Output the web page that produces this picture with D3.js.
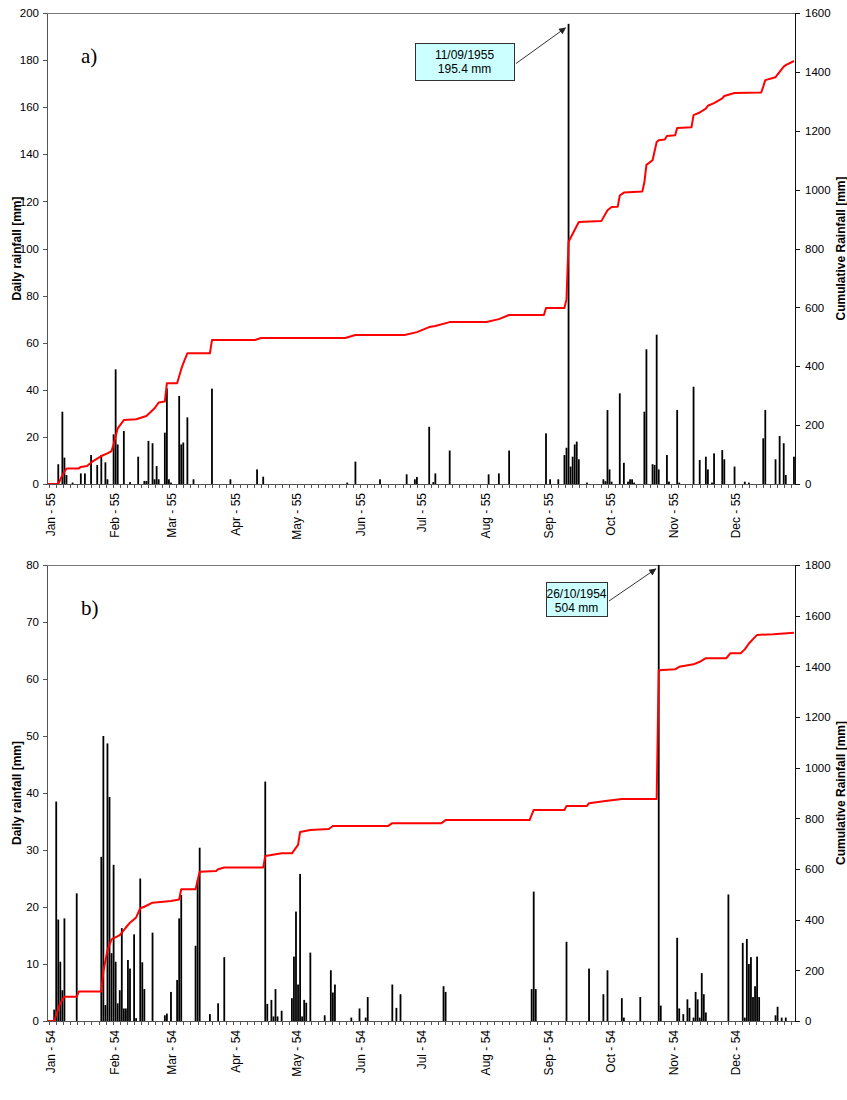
<!DOCTYPE html>
<html>
<head>
<meta charset="utf-8">
<title>Daily and cumulative rainfall</title>
<script src="https://cdn.jsdelivr.net/npm/d3@7"></script>
<style>
	body { margin: 0; background: #fff; }
	svg { display: block; font-family: Arial, "Liberation Sans", sans-serif; }
	.axis path, .axis line { stroke: #555; shape-rendering: crispEdges; }
	.axis text { font-size: 11.5px; fill: #000; }
	.axis-right path, .axis-right line { stroke: #111; }
	.frame { stroke: #777; shape-rendering: crispEdges; }
	.bar { fill: #000; }
	.cum-line { fill: none; stroke: #ff0000; stroke-width: 2; stroke-linejoin: round; }
	.title { font-size: 12px; font-weight: bold; }
	.month { font-size: 12px; }
	.tag { font-family: "Liberation Serif", "DejaVu Serif", serif; font-size: 21px; }
	.note-box { fill: #ccffff; stroke: #333; stroke-width: 1; shape-rendering: crispEdges; }
	.note-text { font-size: 12px; }
	.note-arrow { stroke: #333; stroke-width: 1; }
</style>
</head>
<body>
<svg id="rain-chart" width="847" height="1100"></svg>
<script>
window.app = window.app || {};

// month labels (day of year where each month starts)
var monthNames = ['Jan', 'Feb', 'Mar', 'Apr', 'May', 'Jun', 'Jul', 'Aug', 'Sep', 'Oct', 'Nov', 'Dec'];
var monthStarts = [0, 31, 59, 90, 120, 151, 181, 212, 243, 273, 304, 334];

// a) 1955 daily rainfall [mm], day of year (0 = 1 Jan)
var days55 = [5, 7, 8, 9, 12, 16, 18, 21, 24, 26, 28, 29, 32, 33, 34, 37, 40, 44, 47, 48,
	49, 51, 52, 53, 54, 57, 58, 59, 60, 64, 65, 66, 68, 71, 80, 89, 102, 105, 146, 150,
	162, 175, 179, 180, 186, 188, 189, 196, 215, 220, 225, 243, 245, 249, 252, 253, 254, 255, 256, 257,
	258, 259, 263, 271, 272, 273, 274, 275, 279, 281, 283, 284, 285, 286, 291, 292, 295, 296, 297, 298,
	302, 303, 307, 308, 315, 318, 321, 322, 324, 325, 329, 330, 335, 340, 342, 349, 350, 355, 357, 359,
	360, 364];
var rain55 = [8.4, 30.7, 11.2, 3.8, 0.6, 4.5, 4.5, 12.3, 8.1, 12.3, 9.2, 2, 21.1, 48.7, 16.8, 22.5, 0.8, 11.6, 1.3, 1.3,
	18.3, 17.3, 2, 7.6, 2, 21.8, 40.6, 2, 0.6, 37.4, 16.8, 17.6, 28.3, 2, 40.5, 2, 6.2, 3.1, 0.6, 9.5,
	2, 4.1, 2, 3, 24.3, 0.8, 4.5, 14.2, 4.1, 4.5, 14.2, 21.5, 2, 2, 12.3, 15.4, 195.4, 7.4, 11.6, 16.8,
	18, 10.5, 0.6, 2, 1.2, 31.4, 6.2, 1, 38.5, 9, 1, 2, 2, 0.6, 30.7, 57.2, 8.4, 8.1, 63.4, 6.2,
	12.3, 1, 31.4, 0.6, 41.3, 10.2, 11.6, 6.2, 0.6, 13, 14.4, 10.5, 7.4, 1, 0.6, 19.4, 31.4, 10.5, 20.4, 17.3,
	3.8, 11.6];

// a) 1955 cumulative rainfall [mm], read at its corners
var cumDays55 = [0, 5, 7, 9, 15, 16, 19, 22, 26, 29, 31, 32, 34, 37, 43, 48, 52, 54, 57, 58,
	63, 65, 66, 68, 79, 80, 101, 104, 145, 150, 174, 180, 186, 189, 196, 214, 220, 225, 242, 243,
	252, 253, 254, 259, 270, 273, 275, 278, 279, 281, 290, 291, 292, 295, 297, 298, 301, 302, 306, 307,
	314, 315, 318, 321, 322, 325, 329, 330, 335, 348, 349, 350, 355, 357, 359, 360, 364];
var cum55 = [0, 0, 30, 53, 53, 58, 61, 78, 95, 104, 112, 135, 189, 217, 220, 231, 257, 277, 280, 342,
	342, 390, 410, 444, 444, 489, 489, 496, 496, 506, 506, 516, 533, 537, 550, 550, 560, 574, 574, 598,
	598, 628, 823, 890, 893, 930, 941, 942, 980, 990, 994, 1025, 1084, 1100, 1162, 1168, 1170, 1182, 1185, 1209,
	1212, 1253, 1262, 1275, 1285, 1294, 1310, 1318, 1328, 1330, 1350, 1372, 1382, 1400, 1418, 1423, 1437];

// b) 1954 daily rainfall [mm]
var days54 = [3, 4, 5, 6, 7, 8, 14, 26, 27, 28, 29, 30, 31, 32, 33, 34, 35, 36, 37, 38,
	39, 40, 42, 43, 45, 46, 47, 51, 57, 58, 60, 63, 64, 65, 72, 73, 74, 79, 83, 86,
	106, 107, 109, 110, 111, 112, 114, 119, 120, 121, 122, 123, 124, 125, 126, 128, 135, 138, 139, 140,
	148, 152, 155, 156, 168, 170, 172, 193, 194, 236, 237, 238, 253, 264, 271, 273, 280, 281, 289, 298,
	299, 307, 308, 310, 312, 313, 315, 316, 317, 318, 319, 320, 321, 332, 339, 340, 341, 342, 343, 344,
	345, 346, 347, 355, 356, 358, 360];
var rain54 = [2, 38.5, 17.8, 10.4, 5.4, 18, 22.4, 28.8, 50, 2.8, 48.7, 39.3, 11.9, 27.4, 10.4, 3.1, 5.4, 16.3, 2.2, 2.2,
	10.7, 9.2, 15.2, 0.5, 25, 10.3, 5.6, 15.5, 1, 1.3, 5.1, 7.2, 18, 22.1, 13.2, 24.7, 30.4, 1.2, 3.1, 11.2,
	42, 3, 3.7, 0.8, 5.6, 0.8, 1.8, 4, 11.3, 19.2, 6.4, 25.8, 0.8, 3.7, 3.2, 12, 1, 8.9, 5, 6.4,
	0.6, 2.2, 0.6, 4.2, 6.4, 2.3, 4.7, 6.1, 5.1, 5.6, 22.7, 5.6, 13.9, 9.2, 4.7, 8.9, 4, 0.6, 4.2, 504,
	2.7, 14.6, 2.2, 1.2, 3.8, 2.3, 0.6, 5.1, 3.8, 0.6, 8.4, 4.7, 1.5, 22.2, 13.7, 0.6, 14.4, 10, 11.2, 4.2,
	6.1, 11.3, 4.2, 1, 2.5, 0.6, 0.6];

// b) 1954 cumulative rainfall [mm]
var cumDays54 = [0, 3, 4, 6, 8, 14, 15, 26, 27, 29, 31, 35, 38, 40, 43, 45, 47, 51, 60, 64,
	65, 72, 74, 82, 83, 86, 105, 106, 114, 119, 122, 123, 128, 137, 139, 166, 168, 192, 194, 235,
	237, 252, 253, 263, 264, 272, 280, 297, 298, 306, 308, 315, 318, 321, 331, 333, 338, 340, 342, 346,
	354, 364];
var cum54 = [0, 0, 24, 70, 96, 96, 116, 116, 195, 280, 322, 339, 369, 388, 409, 445, 451, 467, 474, 480,
	520, 520, 589, 592, 599, 606, 606, 651, 662, 662, 695, 746, 754, 758, 770, 770, 781, 781, 793, 793,
	833, 833, 849, 849, 860, 868, 876, 876, 1385, 1388, 1398, 1408, 1418, 1432, 1432, 1452, 1452, 1467, 1490, 1524,
	1527, 1533];

// axis tick values
var dailyTicks55 = [0, 20, 40, 60, 80, 100, 120, 140, 160, 180, 200];
var cumTicks55 = [0, 200, 400, 600, 800, 1000, 1200, 1400, 1600];
var dailyTicks54 = [0, 10, 20, 30, 40, 50, 60, 70, 80];
var cumTicks54 = [0, 200, 400, 600, 800, 1000, 1200, 1400, 1600, 1800];

app.rainChart = (function() {

	'use strict';

	var svg = d3.select('#rain-chart'),
		left = 47,
		right = 795;

	var xScale = d3.scaleLinear()
		.domain([0, 365])
		.range([left, right]);

	/**
	* draw one panel (bars, cumulative line, axes, note)
	* @param {object} p panel settings
	* @returns {undefined}
	*/
	var drawPanel = function(p) {
		var g = svg.append('g'),
			yScale = d3.scaleLinear().domain([0, p.dailyTicks[p.dailyTicks.length - 1]]).range([p.bottom, p.top]),
			cScale = d3.scaleLinear().domain([0, p.cumTicks[p.cumTicks.length - 1]]).range([p.bottom, p.top]),
			bars = p.days.map(function(d, i) {
				return { day: d, value: p.rain[i] };
			}),
			cumPts = p.cumDays.map(function(d, i) {
				return { day: d, value: p.cum[i] };
			});

		g.append('clipPath')
			.attr('id', 'clip-' + p.id)
			.append('rect')
			.attr('x', left)
			.attr('y', p.top)
			.attr('width', right - left)
			.attr('height', p.bottom - p.top);

		// top border of plot area
		g.append('line')
			.attr('class', 'frame')
			.attr('x1', left).attr('x2', right)
			.attr('y1', p.top + 0.5).attr('y2', p.top + 0.5);

		// daily bars
		g.append('g')
			.attr('clip-path', 'url(#clip-' + p.id + ')')
			.selectAll('.bar')
			.data(bars)
			.enter()
			.append('rect')
			.attr('class', 'bar')
			.attr('x', function(d) {
				return xScale(d.day + 0.5) - 0.9;
			})
			.attr('y', function(d) {
				return yScale(d.value);
			})
			.attr('width', 1.8)
			.attr('height', function(d) {
				return p.bottom - yScale(d.value);
			});

		// cumulative line
		var line = d3.line()
			.x(function(d) {
				return xScale(d.day + 0.5);
			})
			.y(function(d) {
				return cScale(d.value);
			});

		g.append('path')
			.datum(cumPts)
			.attr('class', 'cum-line')
			.attr('d', line);

		// axes
		g.append('g')
			.attr('class', 'axis')
			.attr('transform', 'translate(0,' + p.bottom + ')')
			.call(d3.axisBottom(xScale)
				.tickValues(d3.range(1, 365, 3.45))
				.tickSize(4)
				.tickSizeOuter(0)
				.tickFormat(''));

		g.append('g')
			.attr('class', 'axis')
			.attr('transform', 'translate(' + left + ',0)')
			.call(d3.axisLeft(yScale)
				.tickValues(p.dailyTicks)
				.tickSize(4)
				.tickSizeOuter(0)
				.tickPadding(4));

		g.append('g')
			.attr('class', 'axis axis-right')
			.attr('transform', 'translate(' + right + ',0)')
			.call(d3.axisRight(cScale)
				.tickValues(p.cumTicks)
				.tickFormat(d3.format('d'))
				.tickSize(5)
				.tickSizeOuter(0)
				.tickPadding(5));

		// month labels
		g.selectAll('.month')
			.data(monthStarts)
			.enter()
			.append('text')
			.attr('class', 'month')
			.attr('text-anchor', 'end')
			.attr('dy', '0.35em')
			.attr('transform', function(d) {
				return 'translate(' + (xScale(d + 0.5) + 3) + ',' + (p.bottom + 9) + ') rotate(-90)';
			})
			.text(function(d, i) {
				return monthNames[i] + ' - ' + p.yy;
			});

		// axis titles
		var mid = (p.top + p.bottom) / 2;
		g.append('text')
			.attr('class', 'title')
			.attr('text-anchor', 'middle')
			.attr('transform', 'translate(21,' + mid + ') rotate(-90)')
			.text('Daily rainfall [mm]');

		g.append('text')
			.attr('class', 'title')
			.attr('text-anchor', 'middle')
			.attr('transform', 'translate(845,' + mid + ') rotate(-90)')
			.text('Cumulative Rainfall [mm]');

		g.append('text')
			.attr('class', 'tag')
			.attr('x', 81)
			.attr('y', p.top + 50)
			.text(p.tag);

		// annotation of the maximum day
		var tipX = xScale(p.noteDay + 0.5) - 3,
			tipY = Math.max(yScale(p.noteValue), p.top) + 4,
			box = p.noteBox;

		g.append('line')
			.attr('class', 'note-arrow')
			.attr('x1', box.x + box.w + 2)
			.attr('y1', box.y + box.h / 2 + 2)
			.attr('x2', tipX)
			.attr('y2', tipY)
			.attr('marker-end', 'url(#arrow)');

		g.append('rect')
			.attr('class', 'note-box')
			.attr('x', box.x + 0.5)
			.attr('y', box.y + 0.5)
			.attr('width', box.w)
			.attr('height', box.h);

		g.selectAll('.note-text')
			.data(p.note)
			.enter()
			.append('text')
			.attr('class', 'note-text')
			.attr('text-anchor', 'middle')
			.attr('x', box.x + box.w / 2)
			.attr('y', function(d, i) {
				return box.y + 16 + i * 14;
			})
			.text(function(d) {
				return d;
			});
	};

	/**
	*
	* @returns {undefined}
	*/
	var init = function() {
		svg.append('defs')
			.append('marker')
			.attr('id', 'arrow')
			.attr('viewBox', '0 0 10 10')
			.attr('refX', 9)
			.attr('refY', 5)
			.attr('markerWidth', 9)
			.attr('markerHeight', 7)
			.attr('markerUnits', 'userSpaceOnUse')
			.attr('orient', 'auto')
			.append('path')
			.attr('d', 'M0,0 L10,5 L0,10 z')
			.attr('fill', '#222');

		drawPanel({
			id: 'a', tag: 'a)', yy: '55', top: 13, bottom: 484,
			days: days55, rain: rain55, cumDays: cumDays55, cum: cum55,
			dailyTicks: dailyTicks55, cumTicks: cumTicks55,
			noteDay: 254, noteValue: 195.4, note: ['11/09/1955', '195.4 mm'],
			noteBox: { x: 415, y: 43, w: 99, h: 37 }
		});

		drawPanel({
			id: 'b', tag: 'b)', yy: '54', top: 565, bottom: 1021,
			days: days54, rain: rain54, cumDays: cumDays54, cum: cum54,
			dailyTicks: dailyTicks54, cumTicks: cumTicks54,
			noteDay: 298, noteValue: 504, note: ['26/10/1954', '504 mm'],
			noteBox: { x: 546, y: 582, w: 61, h: 34 }
		});
	};

	return {
		init: init
	};

})();

app.rainChart.init();
</script>
</body>
</html>
